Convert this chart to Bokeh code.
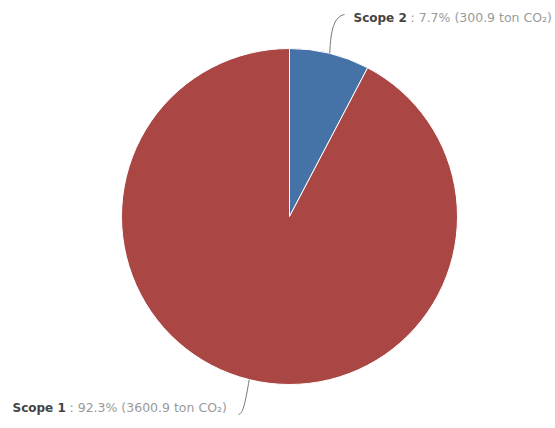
import math
from bokeh.plotting import figure
from bokeh.embed import file_html
from bokeh.resources import INLINE
from bokeh.core.properties import value

# data
categories = ["Scope 2", "Scope 1"]
percents = [7.7, 92.3]
tons = [300.9, 3600.9]
colors = ["#4572A7", "#AA4643"]

W, H = 555, 428
p = figure(width=W, height=H, x_range=(0, W), y_range=(0, H),
           output_backend="svg", toolbar_location=None, min_border=0)
p.axis.visible = False
p.grid.visible = False
p.outline_line_color = None
p.background_fill_color = "white"
p.border_fill_color = "white"

cx, cy, R = 289, 428 - 216, 168
total = sum(percents)
cum = 0.0
mids = []
for c, pc, col in zip(categories, percents, colors):
    a0 = math.pi / 2 - 2 * math.pi * cum / total
    cum += pc
    a1 = math.pi / 2 - 2 * math.pi * cum / total
    p.wedge(x=cx, y=cy, radius=R, radius_units="screen", start_angle=a0, end_angle=a1,
            direction="clock", fill_color=col, line_color="white", line_width=1)
    mids.append((a0 + a1) / 2)

FONT = "DejaVu Sans"
# labels with connectors
lab_pos = [(353, 428 - 17), (12, 428 - 407)]
bold_w = [57, 57]
for i, (c, pc, t) in enumerate(zip(categories, percents, tons)):
    m = mids[i]
    ex, ey = cx + R * math.cos(m), cy + R * math.sin(m)
    lx, ly = lab_pos[i]
    if i == 0:
        x1, y1 = lx - 9, ly + 3
        p.bezier(x0=ex, y0=ey, x1=x1, y1=y1, cx0=ex + 1, cy0=ey + 25, cx1=x1 - 10, cy1=y1 - 2,
                 line_color="#777777", line_width=1)
    else:
        x1, y1 = 238, ly - 7
        p.bezier(x0=ex, y0=ey, x1=x1, y1=y1, cx0=ex - 4, cy0=ey - 22, cx1=x1 + 5, cy1=y1 + 1,
                 line_color="#777777", line_width=1)
    p.text(x=[lx], y=[ly], text=[c], text_font=value(FONT), text_font_style="bold",
           text_font_size="12px", text_color="#444444", text_baseline="middle", text_align="left")
    p.text(x=[lx + bold_w[i]], y=[ly], text=[f": {pc}% ({t} ton CO\u2082)"], text_font=value(FONT),
           text_font_size="12.5px", text_color="#9a9a9a", text_baseline="middle", text_align="left")

open("out.html", "w").write(file_html(p, INLINE))
